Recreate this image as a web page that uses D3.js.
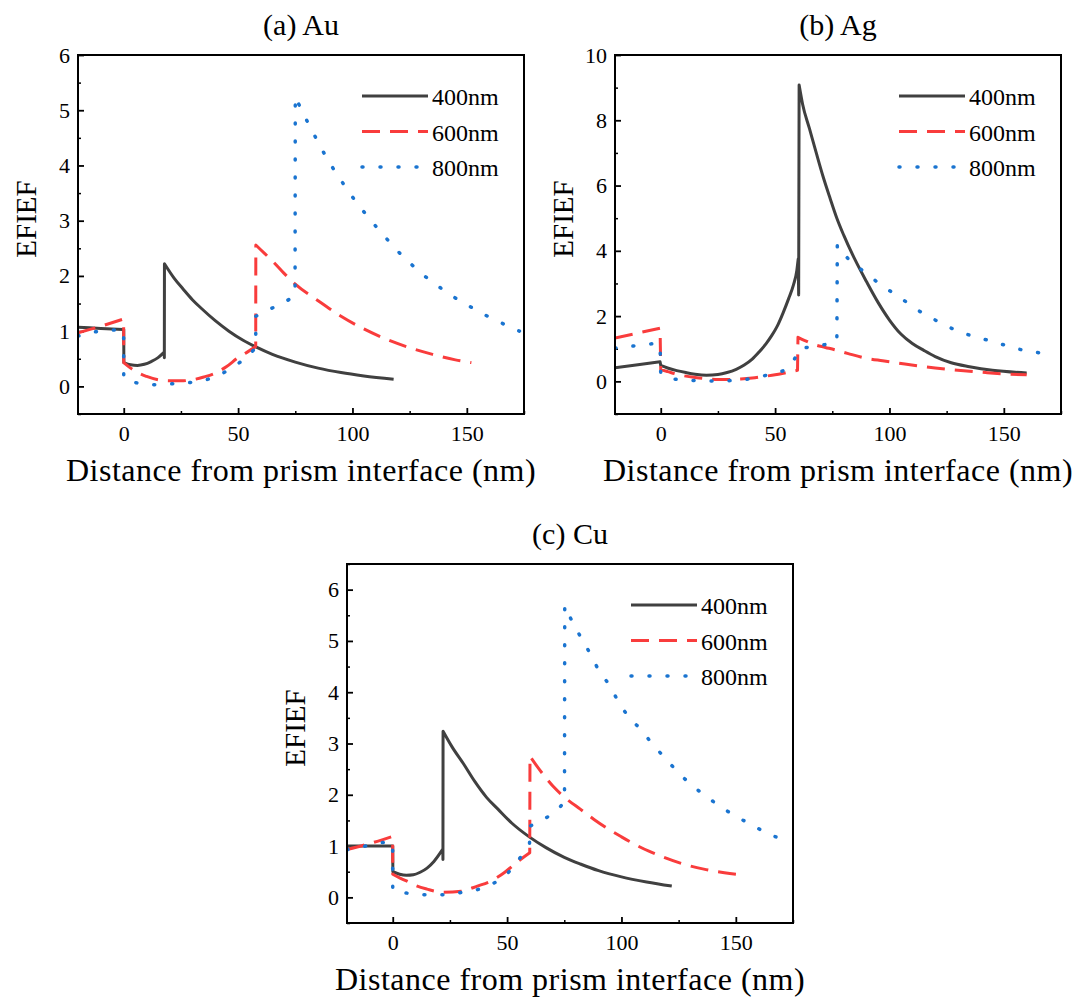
<!DOCTYPE html>
<html>
<head>
<meta charset="utf-8">
<script src="https://cdn.jsdelivr.net/npm/d3@7"></script>
<style>
  body { margin: 0; background: #fff; }
  svg text { font-family: "Liberation Serif", "Times New Roman", serif; fill: #000; }
</style>
</head>
<body>
<div id="chart"></div>
<script>
// Series: [distance (nm), EFIEF]
var au400 = [[-20,1.07],[-10,1.05],[0,1.03],[0.05,0.43],[3,0.39],[6,0.38],[9,0.4],[12,0.45],[15,0.52],[17.7,0.62],[17.75,0.52],[17.8,2.22],[22,1.96],[26,1.76],[30,1.57],[34,1.41],[40,1.19],[46,1.0],[52,0.84],[58,0.71],[65,0.58],[75,0.44],[85,0.33],[95,0.25],[105,0.19],[118,0.13]];
var au600 = [[-20,0.97],[-10,1.09],[-0.05,1.22],[0,0.43],[3,0.33],[6,0.25],[10,0.18],[15,0.12],[20,0.1],[25,0.1],[30,0.12],[35,0.17],[40,0.24],[45,0.36],[50,0.52],[54,0.62],[57.7,0.72],[57.75,2.56],[60,2.47],[65,2.27],[70,2.05],[75,1.85],[85,1.55],[95,1.27],[105,1.04],[115,0.85],[125,0.7],[135,0.58],[145,0.48],[152,0.43]];
var au800 = [[-20,0.91],[-12,0.99],[-3,1.02],[-0.05,1.02],[0,0.13],[5,0.07],[10,0.04],[14,0.03],[22,0.05],[29,0.07],[36,0.12],[42,0.21],[48,0.36],[54,0.54],[57.7,0.7],[57.75,1.27],[62,1.36],[66,1.44],[70,1.52],[74.9,1.64],[75,5.25],[78,4.98],[82,4.66],[86,4.34],[90,4.05],[95,3.73],[100,3.43],[105,3.16],[110,2.91],[115,2.67],[120,2.44],[125,2.24],[130,2.05],[135,1.89],[140,1.74],[145,1.6],[150,1.48],[155,1.36],[160,1.25],[165,1.15],[173,1.0]];

var ag400 = [[-20,0.42],[-10,0.51],[-0.3,0.6],[0,0.49],[3,0.41],[7,0.33],[11,0.27],[15,0.22],[20,0.19],[25,0.21],[29,0.27],[33,0.37],[36.5,0.5],[40,0.68],[43,0.9],[46,1.15],[48.5,1.4],[51,1.7],[53.5,2.1],[56,2.55],[58,2.95],[59.5,3.4],[60.1,3.75],[60.3,2.65],[60.5,9.08],[62,8.5],[65,7.75],[68,7.0],[71,6.27],[74,5.62],[77,5.0],[80,4.48],[85,3.72],[90,3.05],[95,2.42],[100,1.88],[105,1.45],[110,1.16],[115,0.95],[120,0.76],[127,0.57],[135,0.45],[145,0.34],[160,0.26]];
var ag600 = [[-20,1.33],[-10,1.48],[-0.3,1.63],[0,0.36],[3,0.3],[7,0.22],[11,0.16],[15,0.12],[20,0.08],[25,0.06],[30,0.06],[35,0.07],[40,0.1],[45,0.15],[50,0.2],[55,0.27],[59.8,0.34],[60,1.35],[63,1.25],[67,1.13],[72,1.04],[76,0.97],[82,0.85],[89,0.72],[97,0.63],[104,0.56],[112,0.48],[120,0.41],[128,0.35],[135,0.31],[142,0.27],[150,0.23],[160,0.2]];
var ag800 = [[-20,1.02],[-10,1.1],[-3.4,1.15],[-0.3,1.13],[0,0.24],[3,0.12],[7,0.06],[14,0.03],[23,0.01],[32,0.03],[40,0.09],[45,0.17],[52,0.28],[56,0.45],[58.5,0.69],[60.7,1.0],[64,1.04],[67,1.07],[72,1.13],[77,1.22],[77.2,4.18],[80,3.92],[82,3.75],[86,3.52],[90,3.3],[97,2.92],[104,2.6],[112,2.2],[120,1.88],[127,1.63],[134,1.44],[142,1.28],[150,1.12],[157,0.98],[164,0.89],[171,0.82]];

var cu400 = [[-20,1.0],[-10,1.0],[0,1.0],[0.05,0.5],[3,0.45],[6,0.43],[9,0.44],[12,0.49],[15,0.57],[18,0.7],[21.9,0.94],[21.95,0.74],[22,3.24],[26,2.93],[31,2.6],[36,2.25],[41,1.95],[46,1.72],[52,1.45],[60,1.17],[67,0.97],[75,0.78],[82,0.65],[90,0.52],[100,0.4],[111,0.3],[122,0.22]];
var cu600 = [[-20,0.93],[-10,1.05],[-0.05,1.19],[0,0.45],[3,0.38],[6,0.32],[10,0.23],[15,0.16],[22,0.1],[30,0.12],[37,0.22],[43,0.32],[49,0.49],[55,0.71],[59.9,0.87],[60,2.75],[64,2.5],[70,2.17],[76,1.92],[82,1.72],[88,1.52],[94,1.34],[100,1.18],[106,1.03],[112,0.9],[118,0.79],[127,0.65],[136,0.55],[145,0.48],[154,0.43]];
var cu800 = [[-20,0.93],[-12,1.0],[-3.7,1.07],[-0.05,1.07],[0,0.13],[6.7,0.08],[15.6,0.05],[23,0.05],[30.5,0.1],[37,0.15],[43,0.25],[50,0.46],[55,0.73],[59.8,1.04],[60,1.39],[64,1.47],[67,1.55],[71,1.66],[75.1,1.87],[75.2,5.69],[78,5.42],[82,5.09],[86.6,4.73],[90.3,4.41],[95,4.12],[98.6,3.82],[103,3.53],[108.5,3.27],[113.7,2.98],[119,2.72],[124.3,2.46],[130.4,2.2],[137,1.97],[143,1.78],[150,1.58],[156.8,1.42],[163.6,1.25],[174,1.09]];

var seriesNames = ["400nm", "600nm", "800nm"];
var xTicks = [0, 50, 100, 150];
var xMinor = [25, 75, 125, 175];
var yTicksAC = [0, 1, 2, 3, 4, 5, 6];
var yMinorA = [-0.5, 0.5, 1.5, 2.5, 3.5, 4.5, 5.5];
var yMinorC = [-0.5, 0.5, 1.5, 2.5, 3.5, 4.5, 5.5, 6.5];
var yTicksB = [0, 2, 4, 6, 8, 10];
var yMinorB = [-1, 1, 3, 5, 7, 9];

// Layout and styles
var svgWidth = 1078;
var svgHeight = 998;
var plotW = 446;
var plotH = 359;

var styles = [
  { color: "#404040", width: 3, dash: null, cap: "butt" },
  { color: "#f93c3c", width: 3, dash: "18 10", cap: "butt" },
  { color: "#1a74d0", width: 3.5, dash: "1 17", cap: "round" }
];

var panels = [
  { title: "(a) Au", left: 78, top: 55, yDomain: [-0.5, 6], yTicks: yTicksAC, yMinor: yMinorA, data: [au400, au600, au800] },
  { title: "(b) Ag", left: 615, top: 55, yDomain: [-1, 10], yTicks: yTicksB, yMinor: yMinorB, data: [ag400, ag600, ag800] },
  { title: "(c) Cu", left: 347, top: 564, yDomain: [-0.5, 6.5], yTicks: yTicksAC, yMinor: yMinorC, data: [cu400, cu600, cu800] }
];

var svg = d3.select("#chart")
  .append("svg")
  .attr("width", svgWidth)
  .attr("height", svgHeight);

panels.forEach(function(p, pi) {
  var g = svg.append("g")
    .attr("transform", `translate(${p.left}, ${p.top})`);

  var xScale = d3.scaleLinear().domain([-20, 175]).range([0, plotW]);
  var yScale = d3.scaleLinear().domain(p.yDomain).range([plotH, 0]);

  // clip
  g.append("clipPath").attr("id", "clip" + pi)
    .append("rect").attr("width", plotW).attr("height", plotH);

  // minor ticks
  g.append("g")
    .attr("transform", `translate(0, ${plotH})`)
    .call(d3.axisBottom(xScale).tickValues(xMinor).tickSize(-3).tickFormat(""))
    .call(a => a.select(".domain").remove())
    .selectAll("line").attr("stroke-width", 1.5);
  g.append("g")
    .call(d3.axisLeft(yScale).tickValues(p.yMinor).tickSize(-3).tickFormat(""))
    .call(a => a.select(".domain").remove())
    .selectAll("line").attr("stroke-width", 1.5);

  // major axes
  var bottomAxis = d3.axisBottom(xScale).tickValues(xTicks).tickFormat(d3.format("d"))
    .tickSizeInner(-6).tickSizeOuter(0).tickPadding(11);
  var leftAxis = d3.axisLeft(yScale).tickValues(p.yTicks).tickFormat(d3.format("d"))
    .tickSizeInner(-6).tickSizeOuter(0).tickPadding(8);

  var bx = g.append("g")
    .attr("transform", `translate(0, ${plotH})`)
    .call(bottomAxis)
    .attr("font-family", null);
  bx.select(".domain").remove();
  bx.selectAll("line").attr("stroke-width", 1.8);
  bx.selectAll("text").style("font-size", "22px");

  var ly = g.append("g").call(leftAxis).attr("font-family", null);
  ly.select(".domain").remove();
  ly.selectAll("line").attr("stroke-width", 1.8);
  ly.selectAll("text").style("font-size", "22px");

  // curves: smooth runs, joined by straight jumps
  var line = d3.line()
    .x(d => xScale(d[0]))
    .y(d => yScale(d[1]))
    .curve(d3.curveMonotoneX);

  function pathFor(series) {
    var runs = [[series[0]]];
    for (var i = 1; i < series.length; i++) {
      if (series[i][0] - series[i - 1][0] <= 0.35) runs.push([series[i]]);
      else runs[runs.length - 1].push(series[i]);
    }
    return runs.map(function(r, k) {
      var d = line(r).replace(/Z$/, "");
      return k ? d.replace(/^M/, "L") : d;
    }).join("");
  }

  var curves = g.append("g").attr("clip-path", `url(#clip${pi})`);
  p.data.forEach(function(series, si) {
    var s = styles[si];
    curves.append("path")
      .attr("fill", "none")
      .attr("stroke", s.color)
      .attr("stroke-width", s.width)
      .attr("stroke-dasharray", s.dash)
      .attr("stroke-linecap", s.cap)
      .attr("stroke-linejoin", "round")
      .attr("d", pathFor(series));
  });

  // frame
  g.append("rect")
    .attr("width", plotW)
    .attr("height", plotH)
    .attr("fill", "none")
    .attr("stroke", "#000")
    .attr("stroke-width", 2);

  // legend
  var legend = g.append("g").attr("transform", "translate(284, 41)");
  seriesNames.forEach(function(name, si) {
    var s = styles[si];
    var yy = si * 35.5;
    legend.append("line")
      .attr("x1", 0).attr("x2", 66)
      .attr("y1", yy).attr("y2", yy)
      .attr("stroke", s.color)
      .attr("stroke-width", s.width)
      .attr("stroke-dasharray", s.dash)
      .attr("stroke-linecap", s.cap);
    legend.append("text")
      .attr("x", 70)
      .attr("y", yy + 9)
      .style("font-size", "24px")
      .text(name);
  });

  // titles
  g.append("text")
    .attr("x", plotW / 2)
    .attr("y", -20)
    .attr("text-anchor", "middle")
    .style("font-size", "30px")
    .text(p.title);

  g.append("text")
    .attr("x", plotW / 2)
    .attr("y", plotH + 67)
    .attr("text-anchor", "middle")
    .style("font-size", "32px")
    .style("letter-spacing", "0.5px")
    .text("Distance from prism interface (nm)");

  g.append("text")
    .attr("transform", `translate(-42, 164) rotate(-90)`)
    .attr("text-anchor", "middle")
    .style("font-size", "29px")
    .text("EFIEF");
});
</script>
</body>
</html>
